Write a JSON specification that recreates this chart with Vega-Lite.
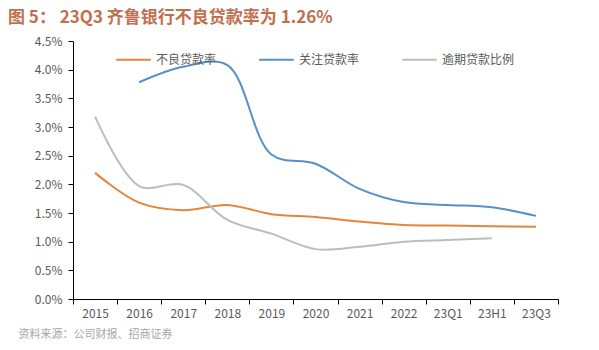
{
  "$schema": "https://vega.github.io/schema/vega-lite/v6.json",
  "autosize": {"type": "none"},
  "width": 485,
  "height": 258,
  "padding": {"left": 73, "top": 41, "right": 41, "bottom": 51},
  "background": "white",
  "title": {
    "text": "图 5：  23Q3 齐鲁银行不良贷款率为 1.26%",
    "anchor": "start",
    "frame": "group",
    "dx": -65,
    "offset": 8,
    "font": "Noto Sans CJK SC",
    "fontSize": 17,
    "fontWeight": "bold",
    "color": "#C0704E"
  },
  "config": {
    "view": {"stroke": null},
    "font": "Noto Sans CJK SC"
  },
  "data": {
    "values": [
      {"period": "2015", "series": "不良贷款率", "value": 0.0220},
      {"period": "2016", "series": "不良贷款率", "value": 0.0168},
      {"period": "2017", "series": "不良贷款率", "value": 0.0155},
      {"period": "2018", "series": "不良贷款率", "value": 0.0164},
      {"period": "2019", "series": "不良贷款率", "value": 0.0148},
      {"period": "2020", "series": "不良贷款率", "value": 0.0143},
      {"period": "2021", "series": "不良贷款率", "value": 0.0135},
      {"period": "2022", "series": "不良贷款率", "value": 0.0129},
      {"period": "23Q1", "series": "不良贷款率", "value": 0.0128},
      {"period": "23H1", "series": "不良贷款率", "value": 0.0127},
      {"period": "23Q3", "series": "不良贷款率", "value": 0.0126},
      {"period": "2016", "series": "关注贷款率", "value": 0.0378},
      {"period": "2017", "series": "关注贷款率", "value": 0.0405},
      {"period": "2018", "series": "关注贷款率", "value": 0.0408},
      {"period": "2019", "series": "关注贷款率", "value": 0.0252},
      {"period": "2020", "series": "关注贷款率", "value": 0.0236},
      {"period": "2021", "series": "关注贷款率", "value": 0.0192},
      {"period": "2022", "series": "关注贷款率", "value": 0.0169},
      {"period": "23Q1", "series": "关注贷款率", "value": 0.0164},
      {"period": "23H1", "series": "关注贷款率", "value": 0.0160},
      {"period": "23Q3", "series": "关注贷款率", "value": 0.0145},
      {"period": "2015", "series": "逾期贷款比例", "value": 0.0318},
      {"period": "2016", "series": "逾期贷款比例", "value": 0.0197},
      {"period": "2017", "series": "逾期贷款比例", "value": 0.0199},
      {"period": "2018", "series": "逾期贷款比例", "value": 0.0138},
      {"period": "2019", "series": "逾期贷款比例", "value": 0.0114},
      {"period": "2020", "series": "逾期贷款比例", "value": 0.0087},
      {"period": "2021", "series": "逾期贷款比例", "value": 0.0091},
      {"period": "2022", "series": "逾期贷款比例", "value": 0.0100},
      {"period": "23Q1", "series": "逾期贷款比例", "value": 0.0103},
      {"period": "23H1", "series": "逾期贷款比例", "value": 0.0106}
    ]
  },
  "mark": {"type": "line", "interpolate": "catmull-rom", "strokeWidth": 2},
  "encoding": {
    "x": {
      "field": "period",
      "type": "ordinal",
      "sort": null,
      "scale": {"type": "band", "paddingInner": 0, "paddingOuter": 0},
      "axis": {
        "title": "资料来源：公司财报、招商证券",
        "titleAnchor": "start",
        "titleAlign": "left",
        "titleBaseline": "top",
        "titleX": -55,
        "titleY": 29,
        "titleFontSize": 11,
        "titleFontWeight": "normal",
        "titleColor": "#A6A6A6",
        "labelAngle": 0,
        "labelFontSize": 12,
        "labelColor": "#595959",
        "labelPadding": 4,
        "tickBand": "extent",
        "tickColor": "#000000",
        "tickSize": 5,
        "domainColor": "#000000",
        "grid": false
      }
    },
    "y": {
      "field": "value",
      "type": "quantitative",
      "scale": {"domain": [0, 0.045], "nice": false},
      "axis": {
        "title": null,
        "format": ".1%",
        "values": [0, 0.005, 0.01, 0.015, 0.02, 0.025, 0.03, 0.035, 0.04, 0.045],
        "labelFontSize": 12,
        "labelColor": "#595959",
        "labelPadding": 6,
        "tickColor": "#000000",
        "tickSize": 5,
        "domainColor": "#000000",
        "grid": false
      }
    },
    "color": {
      "field": "series",
      "type": "nominal",
      "sort": ["不良贷款率", "关注贷款率", "逾期贷款比例"],
      "scale": {
        "domain": ["不良贷款率", "关注贷款率", "逾期贷款比例"],
        "range": ["#E5853B", "#5590C8", "#BDBDBD"]
      },
      "legend": {
        "title": null,
        "orient": "none",
        "direction": "horizontal",
        "legendX": 42,
        "legendY": 0,
        "symbolType": "stroke",
        "symbolSize": 1200,
        "symbolStrokeWidth": 2,
        "labelFontSize": 12,
        "labelColor": "#595959",
        "labelOffset": 4,
        "columnPadding": 38
      }
    }
  }
}
